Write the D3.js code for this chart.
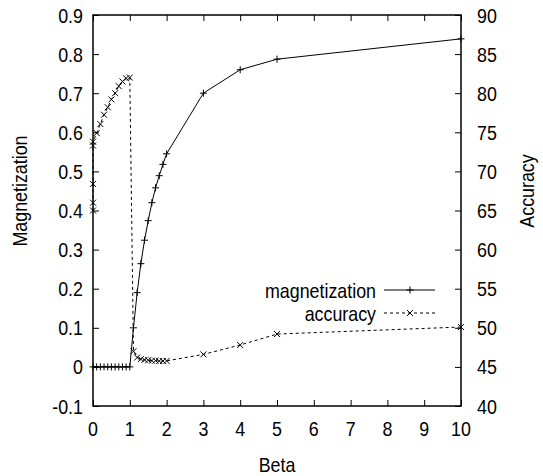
<!DOCTYPE html>
<meta charset="utf-8">
<style>
body { margin: 0; background: #fff; }
svg text { font-family: "Liberation Sans", Arial, sans-serif; font-size: 21px; fill: #000; }
</style>
<svg width="543" height="476"></svg>
<script src="https://d3js.org/d3.v7.min.js"></script>
<script>

// magnetization (+ markers, solid)
var magBeta = [0, 0.1, 0.2, 0.3, 0.4, 0.5, 0.6, 0.7, 0.8, 0.9, 1.0,
               1.1, 1.2, 1.3, 1.4, 1.5, 1.6, 1.7, 1.8, 1.9, 2.0, 3, 4, 5, 10];
var magValues = [0, 0, 0, 0, 0, 0, 0, 0, 0, 0, 0,
                 0.100, 0.190, 0.264, 0.324, 0.374, 0.420, 0.458, 0.489, 0.518, 0.545,
                 0.700, 0.760, 0.787, 0.839];

// accuracy (x markers, dashed), right axis
var accBeta = [0, 0, 0, 0, 0, 0.1, 0.2, 0.3, 0.4, 0.5, 0.6, 0.7, 0.8, 0.9, 1.0,
               1.1, 1.2, 1.3, 1.4, 1.5, 1.6, 1.7, 1.8, 1.9, 2.0, 3, 4, 5, 10];
var accValues = [65.0, 66.0, 68.4, 73.3, 73.8, 74.9, 76.05, 77.25, 78.2, 79.2, 80.0, 80.9, 81.5, 81.9, 82.0,
                 47.0, 46.2, 46.0, 45.9, 45.85, 45.8, 45.8, 45.75, 45.75, 45.77,
                 46.6, 47.8, 49.2, 50.1];

var xTicks = [0, 1, 2, 3, 4, 5, 6, 7, 8, 9, 10];
var yTicks = [-0.1, 0, 0.1, 0.2, 0.3, 0.4, 0.5, 0.6, 0.7, 0.8, 0.9];
var y2Ticks = [40, 45, 50, 55, 60, 65, 70, 75, 80, 85, 90];

var svg = d3.select("svg"),
    pl = 93, pr = 461, pt = 15, pb = 406;

var x = d3.scaleLinear().domain([0, 10]).range([pl, pr]);
var y = d3.scaleLinear().domain([-0.1, 0.9]).range([pb, pt]);
var y2 = d3.scaleLinear().domain([40, 90]).range([pb, pt]);

var mag = magBeta.map(function(b, i) { return [b, magValues[i]]; });
var acc = accBeta.map(function(b, i) { return [b, accValues[i]]; });

// narrow-ish text: gnuplot font is squeezed horizontally
var sx = 0.85;
function label(px, py, str, anchor, rot) {
  return svg.append("text")
      .attr("transform", "translate(" + px + "," + py + ")" + (rot ? " rotate(-90)" : "") + " scale(" + sx + ",1)")
      .attr("text-anchor", anchor)
      .text(str);
}

// axes: gnuplot style, ticks pointing inward
var tl = 6;
function noDomain(g) { g.select(".domain").remove(); }
svg.append("g")
    .attr("transform", "translate(" + pl + ",0)")
    .call(d3.axisRight(y).tickValues(yTicks).tickSize(tl).tickFormat(""))
    .call(noDomain);
svg.append("g")
    .attr("transform", "translate(" + pr + ",0)")
    .call(d3.axisLeft(y2).tickValues(y2Ticks).tickSize(tl).tickFormat(""))
    .call(noDomain);
svg.append("g")
    .attr("transform", "translate(0," + pb + ")")
    .call(d3.axisTop(x).tickValues(xTicks).tickSize(tl).tickFormat(""))
    .call(noDomain);
svg.append("g")
    .attr("transform", "translate(0," + pt + ")")
    .call(d3.axisBottom(x).tickValues(xTicks).tickSize(tl).tickFormat(""))
    .call(noDomain);

svg.selectAll(".tick line").attr("stroke", "#000").attr("stroke-width", 1);

svg.append("rect")
    .attr("x", pl).attr("y", pt)
    .attr("width", pr - pl).attr("height", pb - pt)
    .attr("fill", "none").attr("stroke", "#000").attr("stroke-width", 1.5);

// tick labels
yTicks.forEach(function(d) { label(pl - 10, y(d) + 7.5, String(+d.toFixed(1)), "end"); });
y2Ticks.forEach(function(d) { label(pr + 16, y2(d) + 7.5, String(d), "start"); });
xTicks.forEach(function(d) { label(x(d), 436, String(d), "middle"); });

// axis titles
label(277, 472, "Beta", "middle");
label(27, 191, "Magnetization", "middle", true);
label(534, 191, "Accuracy", "middle", true);

// lines
var lineMag = d3.line().x(function(d) { return x(d[0]); }).y(function(d) { return y(d[1]); });
var lineAcc = d3.line().x(function(d) { return x(d[0]); }).y(function(d) { return y2(d[1]); });

svg.append("path").datum(mag).attr("d", lineMag)
    .attr("fill", "none").attr("stroke", "#000").attr("stroke-width", 1);
svg.append("path").datum(acc).attr("d", lineAcc)
    .attr("fill", "none").attr("stroke", "#000").attr("stroke-width", 1)
    .attr("stroke-dasharray", "3,3");

var s = 3.5;
function plus(sel) {
  sel.append("path")
      .attr("d", "M" + (-s) + ",0H" + s + "M0," + (-s) + "V" + s)
      .attr("stroke", "#000").attr("stroke-width", 1).attr("fill", "none");
}
function cross(sel) {
  var c = 3;
  sel.append("path")
      .attr("d", "M" + (-c) + "," + (-c) + "L" + c + "," + c + "M" + (-c) + "," + c + "L" + c + "," + (-c))
      .attr("stroke", "#000").attr("stroke-width", 1).attr("fill", "none");
}

svg.append("g").selectAll("g").data(mag).enter().append("g")
    .attr("transform", function(d) { return "translate(" + x(d[0]) + "," + y(d[1]) + ")"; })
    .call(plus);
svg.append("g").selectAll("g").data(acc).enter().append("g")
    .attr("transform", function(d) { return "translate(" + x(d[0]) + "," + y2(d[1]) + ")"; })
    .call(cross);

// legend
var lg = [{name: "magnetization", y: 290, dash: null, mark: plus},
          {name: "accuracy", y: 313, dash: "3,3", mark: cross}];
lg.forEach(function(l) {
  label(376, l.y + 7.5, l.name, "end");
  svg.append("line").attr("x1", 384).attr("x2", 435).attr("y1", l.y).attr("y2", l.y)
      .attr("stroke", "#000").attr("stroke-width", 1).attr("stroke-dasharray", l.dash);
  svg.append("g").attr("transform", "translate(410," + l.y + ")").call(l.mark);
});

</script>
